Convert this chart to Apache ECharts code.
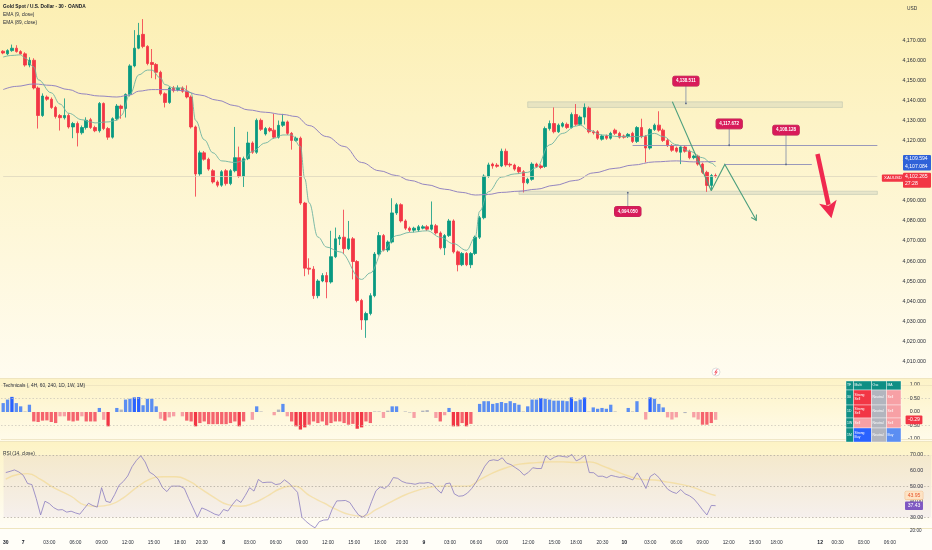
<!DOCTYPE html>
<html>
<head>
<meta charset="utf-8">
<script src="https://cdn.jsdelivr.net/npm/echarts@6/dist/echarts.min.js"></script>
<style>
html,body{margin:0;padding:0;background:#fffdf4}
#chart{width:932px;height:550px}
</style>
</head>
<body>
<div id="chart"></div>
<script>
// ---------------- data ----------------
var SLOTS = 213; // 30 min slots across the whole width (incl. future space)

// [open, close, low, high] per 30 min candle
var candles = [
  [4164.5,4163.6,4163.0,4165.0],[4163.2,4164.8,4162.5,4165.5],[4164.8,4166.0,4164.2,4167.8],[4166.0,4164.3,4163.8,4167.5],
  [4164.3,4163.2,4162.8,4165.0],[4163.2,4157.6,4156.8,4164.0],[4157.6,4160.0,4156.5,4161.5],[4160.0,4146.2,4145.5,4161.0],
  [4146.2,4132.5,4126.0,4147.0],[4132.5,4142.2,4131.8,4143.5],[4141.7,4140.6,4139.8,4142.5],[4140.6,4136.5,4135.8,4141.5],
  [4136.5,4132.0,4131.0,4137.3],[4132.5,4131.4,4125.0,4133.2],[4131.4,4132.5,4130.5,4141.0],[4132.5,4126.8,4126.0,4133.5],
  [4126.8,4128.5,4121.2,4129.3],[4128.5,4123.9,4117.1,4129.5],[4123.9,4126.5,4123.0,4127.5],[4126.5,4130.1,4125.5,4131.6],
  [4130.4,4126.5,4125.8,4131.3],[4126.5,4124.9,4124.2,4127.4],[4124.9,4138.5,4124.0,4139.2],[4138.5,4126.0,4125.2,4139.0],
  [4126.0,4121.7,4120.4,4126.8],[4121.7,4130.9,4121.0,4131.6],[4130.9,4137.2,4130.2,4138.2],[4137.2,4136.0,4130.9,4137.9],
  [4136.0,4143.0,4131.5,4143.5],[4143.0,4157.2,4142.0,4158.0],[4157.2,4166.0,4156.5,4175.0],[4166.0,4172.4,4165.5,4178.6],
  [4172.9,4166.9,4166.0,4180.5],[4166.9,4158.4,4157.5,4167.5],[4158.9,4157.9,4151.1,4165.6],[4157.9,4154.0,4150.5,4158.6],
  [4154.0,4143.3,4142.5,4154.8],[4143.3,4139.0,4136.5,4144.0],[4139.0,4146.2,4138.3,4147.0],[4146.2,4144.9,4144.0,4147.2],
  [4145.4,4146.2,4144.5,4147.5],[4146.2,4144.6,4143.8,4147.0],[4144.6,4141.7,4141.0,4147.5],[4141.7,4126.8,4126.0,4142.5],
  [4126.8,4103.4,4092.1,4127.5],[4103.4,4113.9,4102.5,4115.0],[4113.9,4110.7,4110.0,4114.8],[4110.7,4105.8,4105.0,4111.5],
  [4105.0,4099.4,4098.6,4105.8],[4099.4,4097.8,4096.8,4100.2],[4097.8,4104.5,4097.0,4105.3],[4105.0,4098.6,4097.6,4105.8],
  [4098.6,4105.0,4097.8,4105.8],[4105.0,4111.5,4104.2,4126.8],[4111.5,4102.3,4101.5,4117.0],[4102.3,4111.0,4096.9,4112.0],
  [4111.0,4118.8,4110.3,4124.4],[4118.8,4114.2,4113.4,4119.6],[4114.2,4130.1,4113.4,4131.0],[4130.1,4125.6,4124.8,4131.0],
  [4123.3,4126.0,4122.5,4126.8],[4126.0,4124.9,4124.2,4126.8],[4125.2,4121.7,4121.0,4133.3],[4121.7,4127.6,4121.0,4130.0],
  [4127.6,4129.3,4126.8,4133.3],[4129.3,4123.6,4122.8,4130.0],[4123.6,4120.1,4115.5,4124.3],[4120.1,4121.2,4119.5,4122.0],
  [4121.2,4088.9,4088.0,4122.0],[4088.9,4056.5,4052.5,4089.5],[4056.5,4056.0,4053.3,4061.4],[4056.0,4042.8,4041.2,4057.5],
  [4042.8,4050.1,4041.5,4051.0],[4050.1,4052.8,4049.5,4054.0],[4052.8,4049.6,4041.5,4054.5],[4049.6,4062.2,4048.8,4075.1],
  [4062.2,4071.1,4061.5,4076.7],[4071.1,4071.9,4068.0,4073.0],[4071.9,4066.2,4063.5,4085.6],[4066.2,4071.1,4065.5,4080.0],
  [4071.1,4059.8,4050.9,4072.0],[4059.8,4040.4,4039.5,4060.5],[4040.4,4030.7,4025.8,4041.2],[4030.7,4033.9,4021.8,4034.8],
  [4033.9,4042.8,4033.0,4044.0],[4042.8,4063.5,4042.0,4064.5],[4063.5,4072.7,4062.8,4074.5],[4072.7,4065.5,4064.8,4073.5],
  [4065.5,4069.5,4064.5,4070.3],[4069.5,4084.0,4068.8,4091.3],[4084.0,4088.1,4083.0,4089.0],[4088.1,4080.0,4079.2,4088.8],
  [4080.0,4076.4,4075.5,4080.8],[4076.4,4075.4,4074.5,4077.2],[4075.4,4076.4,4074.3,4077.1],[4075.5,4077.1,4074.5,4078.0],
  [4076.4,4077.1,4075.8,4078.0],[4077.1,4075.9,4075.0,4078.0],[4075.9,4078.0,4075.2,4089.7],[4077.6,4074.0,4073.2,4078.5],
  [4074.0,4066.6,4065.8,4074.8],[4066.6,4072.7,4063.0,4073.5],[4072.7,4080.0,4072.0,4081.0],[4080.0,4064.6,4063.8,4080.8],
  [4064.6,4058.2,4054.9,4065.3],[4058.2,4063.8,4057.5,4064.5],[4063.8,4058.2,4057.5,4064.5],[4058.2,4063.8,4056.5,4064.5],
  [4063.8,4071.9,4063.0,4072.7],[4071.9,4081.6,4071.0,4082.5],[4081.6,4102.3,4080.8,4103.2],[4102.3,4107.9,4101.5,4109.0],
  [4108.3,4107.4,4106.0,4109.0],[4107.8,4107.2,4106.5,4108.8],[4107.4,4114.7,4106.8,4116.0],[4114.7,4107.9,4107.0,4116.0],
  [4108.2,4107.8,4106.8,4109.0],[4107.8,4105.8,4105.0,4108.5],[4106.6,4104.5,4103.5,4107.3],[4104.5,4099.0,4094.2,4105.3],
  [4099.0,4100.7,4098.3,4101.5],[4100.7,4108.3,4100.0,4109.2],[4108.3,4107.1,4106.4,4109.0],[4107.4,4106.6,4105.8,4108.2],
  [4107.1,4126.0,4106.4,4127.0],[4126.0,4128.5,4125.0,4130.0],[4128.5,4124.4,4123.6,4136.5],[4124.4,4127.7,4123.8,4128.5],
  [4127.2,4128.5,4126.5,4129.3],[4128.1,4126.5,4125.8,4129.0],[4126.5,4133.0,4126.0,4134.0],[4133.0,4128.1,4127.3,4138.2],
  [4128.1,4131.7,4127.5,4132.5],[4131.7,4136.5,4128.0,4138.5],[4136.2,4124.4,4123.6,4137.0],[4124.4,4123.9,4123.0,4125.2],
  [4124.4,4121.2,4120.4,4125.2],[4120.7,4122.3,4120.0,4123.0],[4122.3,4121.2,4120.4,4123.0],[4121.2,4123.6,4120.5,4124.4],
  [4125.2,4123.6,4122.8,4126.0],[4123.6,4121.7,4121.0,4124.4],[4122.3,4121.7,4121.0,4123.0],[4122.0,4123.1,4121.3,4123.8],
  [4123.6,4119.6,4118.8,4124.4],[4119.6,4126.5,4118.8,4127.2],[4126.5,4122.0,4121.2,4130.9],[4122.0,4116.3,4109.1,4122.8],
  [4116.3,4125.5,4115.5,4126.2],[4125.5,4127.7,4124.8,4128.5],[4127.7,4125.2,4124.4,4134.6],[4125.2,4120.1,4119.3,4126.0],
  [4120.1,4117.5,4116.8,4121.0],[4117.5,4115.2,4114.4,4118.3],[4116.3,4114.7,4114.0,4117.0],[4114.2,4116.8,4108.3,4117.6],
  [4116.8,4114.7,4114.0,4117.6],[4114.7,4111.5,4110.7,4115.5],[4111.5,4112.3,4110.7,4113.0],[4112.3,4108.3,4107.5,4113.0],
  [4108.3,4104.2,4103.4,4109.0],[4104.2,4097.7,4094.5,4105.0],[4097.7,4102.6,4095.3,4103.4],[4102.6,4102.27,4101.5,4103.6]
];

// EMA lines, read at sample candles: [candle index, value]
var ema9 = [[0,4161.6],[2,4162.4],[4,4162.7],[5,4161.1],[7,4156.7],[8,4150.3],[11,4143.8],[13,4138.2],[15,4133.6],[18,4130.4],
  [20,4129.3],[21,4128.8],[24,4129.3],[26,4130.1],[27,4132.5],[29,4143],[31,4152.7],[33,4155.1],[34,4155.1],[36,4151.1],
  [37,4147.9],[39,4146.2],[41,4146.2],[43,4143.8],[44,4130.1],[46,4120.4],[48,4113.9],[50,4109.9],[53,4109.1],[55,4109.9],
  [57,4114.7],[60,4118.8],[62,4121.2],[64,4122.8],[66,4122.8],[68,4117.1],[69,4101],[70,4089],[72,4072],[74,4067],
  [77,4064.6],[82,4050.9],[84,4054.1],[87,4065.4],[90,4072.7],[93,4074.3],[97,4075.1],[100,4071.9],[103,4068.7],[106,4065.4],
  [108,4071.9],[109,4084.8],[111,4094.5],[114,4101.8],[117,4103.4],[120,4104.2],[122,4106.6],[125,4117.9],[128,4123.6],[131,4127.2],
  [132,4127.7],[134,4125.2],[137,4122.8],[141,4122],[146,4122],[149,4123.6],[151,4122],[154,4118],[157,4114.7],[160,4111.5],
  [162,4108.8],[163,4107.084]];
var ema89 = [[0,4145.4],[3,4147],[7,4148.2],[11,4147.5],[15,4145.4],[18,4143.3],[22,4142.2],[26,4141.7],[29,4142.7],[31,4144.6],
  [34,4145.4],[37,4145.4],[41,4144.9],[45,4142.7],[49,4140.1],[53,4137.4],[56,4135.3],[60,4134.1],[64,4133],[67,4132],
  [70,4127.5],[74,4122],[78,4117.1],[82,4109.1],[86,4105],[90,4102.6],[93,4100.2],[97,4098],[101,4095.8],[105,4094.2],
  [108,4092.9],[111,4093.2],[114,4094.2],[118,4094.8],[122,4095.8],[126,4097.7],[131,4100.2],[135,4103.9],[140,4106.2],[144,4107.8],
  [149,4109.4],[154,4109.9],[158,4109.4],[163,4109.594]];

// Technicals rating, one value per candle
var techValues = [0.33,0.46,0.56,0.33,0.21,0.02,0.27,-0.35,-0.37,-0.32,-0.31,-0.37,-0.41,-0.16,-0.16,-0.32,-0.35,-0.32,-0.16,-0.35,
  -0.35,-0.35,0.15,-0.29,-0.53,0.0,0.15,0.09,0.46,0.49,0.54,0.55,0.25,0.49,0.49,0.21,-0.25,-0.32,-0.2,-0.16,
  0.0,-0.16,-0.32,-0.35,-0.53,-0.41,-0.35,-0.45,-0.45,-0.45,-0.45,-0.45,-0.41,-0.35,-0.53,-0.35,0.0,-0.29,0.21,0.02,
  0.0,0.0,-0.12,0.09,0.3,-0.16,-0.35,
  -0.53,-0.65,-0.57,-0.47,-0.35,-0.41,-0.35,-0.49,-0.41,-0.35,-0.35,-0.41,-0.47,-0.44,-0.62,-0.57,-0.35,-0.41,
  0.02,0.02,-0.22,0.05,0.21,0.21,0.0,0.02,-0.02,-0.22,0.0,0.05,0.07,0.0,-0.22,-0.35,-0.12,0.15,
  -0.53,-0.53,-0.41,-0.53,-0.44,0.0,
  0.3,0.4,0.4,0.3,0.33,0.37,0.33,0.4,0.33,0.27,0.02,
  0.21,0.46,0.46,0.52,0.49,0.46,0.42,0.42,0.42,0.4,0.54,0.4,0.46,0.54,
  0.02,0.17,0.12,0.15,0.12,0.27,0.02,0.0,0.0,0.15,0.02,0.4,0.0,-0.28,
  0.54,0.49,0.3,0.17,-0.2,-0.28,-0.2,0.0,-0.04,0.0,-0.2,-0.28,-0.47,-0.47,-0.41,-0.29];

// RSI (14), one value per candle
var rsiValues = [58.7,59.5,60.4,59.1,57,51.7,51,42,31.5,40.3,38.8,36.2,34.7,34.9,33.3,33.9,32.8,32,35.5,39,
  37.5,36.5,49,40.3,39.5,44.5,50.5,53,56.5,62.5,66.5,69.5,65.5,59,57.3,54.5,49,46.5,50,50,
  50,48.5,42,36,30,36,34.9,33.5,32,31.2,35,34,38,41.4,39.5,44,49,46.8,54.3,52.2,
  52.5,52.5,51,51.5,54,52,49,46,
  30,27.2,25,23.2,27.2,28.2,28.4,35.5,40.5,40.6,40.8,39.5,35.3,31.5,30,32.5,40,47,49.5,48.5,
  50.8,55.5,55,53,52,51.7,51.2,52,51.9,52.3,51.5,48,45.5,51.5,52,45,43.5,43.8,45.5,48.5,
  52.5,57.5,62.8,66.3,66.9,66.4,68.2,64.8,63.8,61.9,60,57,58.8,61.8,61.3,61.3,69.5,66.9,68.6,69.5,
  69,68.6,70.3,66.2,67.6,69.9,58.7,58.6,56.3,56.4,55.4,56.9,56.2,55.6,56,55,54,58.5,54,48.5,
  56.2,58,55.5,51.5,48,46.3,45.3,47.8,45,43.8,41.8,38.5,34.8,31.5,37.6,37.43];
// RSI based MA, read at sample candles
var rsiMa = [[0,54.5],[3,57.6],[5,58],[8,54.3],[11,49],[15,43.5],[18,38],[21,37],[24,38.1],[27,42.5],[30,49],[33,54.3],
  [36,56],[39,56],[42,53.3],[45,47.9],[48,42.5],[51,38.1],[54,37.1],[57,39.2],[60,43.5],[63,48.3],[66,50],[70,43.5],
  [73,39.2],[76,34.9],[79,31.7],[82,30.6],[85,34.9],[88,39.2],[91,43.5],[94,46.8],[97,49],[100,50],[103,50],[106,50],
  [109,54.3],[112,58.7],[115,61.9],[118,64.1],[122,65.1],[125,65.6],[128,65.6],[131,65.1],[134,65.6],[137,63],[140,59.7],
  [143,56.5],[146,54.3],[149,53.9],[152,52.6],[155,51.1],[158,49],[161,45.7],[163,44]];

// time axis labels: [slot index, text]
var timeTicks = [[0,'30'],[4,'7'],[10,'03:00'],[16,'06:00'],[22,'09:00'],[28,'12:00'],[34,'15:00'],[40,'18:00'],[45,'20:30'],
  [50,'8'],[56,'03:00'],[62,'06:00'],[68,'09:00'],[74,'12:00'],[80,'15:00'],[86,'18:00'],[91,'20:30'],
  [96,'9'],[102,'03:00'],[108,'06:00'],[114,'09:00'],[120,'12:00'],[126,'15:00'],[131,'18:00'],[137,'20:30'],
  [142,'10'],[148,'03:00'],[154,'06:00'],[160,'09:00'],[166,'12:00'],[172,'15:00'],[177,'18:00'],
  [187,'12'],[191,'00:30'],[197,'03:00'],[203,'06:00']];

// drawn levels and zones
var resistanceZone = [[120,4139.3],[192,4136.5]];
var supportZone = [[118,4094.8],[200,4093.2]];
var levelUpper = [144,200,4117.672];
var levelLower = [165,185,4108.128];
var lastPrice = 4102.265;
var callouts = [
  {text:'4,138.511', i:156.2, price:4138.511, labelPrice:4149.6},
  {text:'4,117.672', i:166.1, price:4117.672, labelPrice:4128.3},
  {text:'4,108.128', i:179.1, price:4108.128, labelPrice:4125.2},
  {text:'4,094.050', i:142.9, price:4094.05, labelPrice:4084.7}
];
var trendLine = [[153.1,4139.3],[162,4095]];
var zigzag = [[162,4095],[165.1,4108.1],[172.3,4080.3]];
var bigArrow = [[186.3,4113.3],[189.5,4081.3]];

// ---------------- chart ----------------
var FONT = '"Liberation Sans", Arial, sans-serif';
var TXT = '#2a2e39';

var xCats = [];
for (var s = 0; s < SLOTS; s++) xCats.push('');
var dayLabels = {'7':1,'8':1,'9':1,'10':1,'12':1,'30':1};
timeTicks.forEach(function (t) { xCats[t[0]] = t[1]; });

function fmtPrice(v) {
  return v.toLocaleString('en-US', {minimumFractionDigits: 3, maximumFractionDigits: 3});
}
function techColor(v) {
  if (v >= 0.5) return '#2962ff';
  if (v >= 0.1) return '#5b8ef2';
  if (v > -0.1) return '#b2b5be';
  if (v > -0.3) return '#f7a0a5';
  if (v > -0.5) return '#f5636d';
  return '#f23645';
}

function xAxisFor(idx, showLabels) {
  return {
    type: 'category', gridIndex: idx, data: xCats, boundaryGap: true,
    axisLine: {show: false}, axisTick: {show: false}, splitLine: {show: false},
    axisLabel: {
      show: showLabels, interval: 0, margin: 7, fontSize: 4.8, color: TXT, fontFamily: FONT,
      formatter: function (v) { return dayLabels[v] ? '{d|' + v + '}' : v; },
      rich: {d: {fontSize: 5, fontWeight: 'bold', color: '#131722', fontFamily: FONT}}
    }
  };
}

var chartDom = document.getElementById('chart');
var chart = echarts.init(chartDom);

var option = {
  animation: false,
  backgroundColor: 'transparent',
  grid: [
    {left: 1, right: 0, top: -10.25, height: 391.875},
    {left: 1, right: 0, top: 385, height: 54},
    {left: 1, right: 0, top: 439.4, height: 93.45}
  ],
  xAxis: [xAxisFor(0, false), xAxisFor(1, false), xAxisFor(2, true)],
  yAxis: [
    {
      gridIndex: 0, position: 'right', min: 4000, max: 4190, interval: 10, scale: true,
      axisLine: {show: false}, axisTick: {show: false}, splitLine: {show: false},
      axisLabel: {
        inside: true, margin: 6, fontSize: 5.3, color: TXT, fontFamily: FONT,
        formatter: function (v) { return (v >= 4010 && v <= 4170) ? fmtPrice(v) : ''; }
      }
    },
    {
      gridIndex: 1, position: 'right', min: -1, max: 1, interval: 0.5,
      axisLine: {show: false}, axisTick: {show: false}, splitLine: {show: false},
      axisLabel: {inside: true, margin: 12, fontSize: 5.3, color: TXT, fontFamily: FONT,
        formatter: function (v) { return v.toFixed(2); }}
    },
    {
      gridIndex: 2, position: 'right', min: 20, max: 80, interval: 10,
      axisLine: {show: false}, axisTick: {show: false}, splitLine: {show: false},
      axisLabel: {inside: true, margin: 8, fontSize: 5.3, color: TXT, fontFamily: FONT,
        formatter: function (v) { return (v >= 30 && v <= 70) ? v.toFixed(2) : ''; }}
    }
  ],
  series: [
    {
      name: 'XAUUSD', type: 'candlestick', xAxisIndex: 0, yAxisIndex: 0,
      data: candles, barWidth: 3,
      itemStyle: {color: '#089981', color0: '#f23645', borderColor: '#089981', borderColor0: '#f23645', borderWidth: 0.8},
      markLine: {
        silent: true, symbol: 'none', label: {show: false},
        data: [
          [{coord: [0, lastPrice], lineStyle: {color: '#d9d2bb', width: 0.7, type: 'solid'}}, {coord: [200, lastPrice]}],
          [{coord: [levelUpper[0], levelUpper[2]], lineStyle: {color: '#8f8fb8', width: 0.9, type: 'solid'}}, {coord: [levelUpper[1], levelUpper[2]]}],
          [{coord: [levelLower[0], levelLower[2]], lineStyle: {color: '#8f8fb8', width: 0.9, type: 'solid'}}, {coord: [levelLower[1], levelLower[2]]}]
        ]
      },
      markArea: {
        silent: true,
        itemStyle: {color: 'rgba(196,206,190,0.38)', borderColor: 'rgba(170,182,168,0.7)', borderWidth: 0.6},
        data: [
          [{coord: resistanceZone[0]}, {coord: resistanceZone[1]}],
          [{coord: supportZone[0]}, {coord: supportZone[1]}]
        ]
      }
    },
    {
      name: 'EMA 89', type: 'line', xAxisIndex: 0, yAxisIndex: 0, data: ema89,
      smooth: 0.4, smoothMonotone: 'x', showSymbol: false, symbol: 'none',
      lineStyle: {color: '#9485c0', width: 1}
    },
    {
      name: 'EMA 9', type: 'line', xAxisIndex: 0, yAxisIndex: 0, data: ema9,
      smooth: 0.4, smoothMonotone: 'x', showSymbol: false, symbol: 'none',
      lineStyle: {color: '#6fb3a2', width: 0.9}
    },
    {
      name: 'Technicals', type: 'bar', xAxisIndex: 1, yAxisIndex: 1, barWidth: 3.3,
      data: techValues.map(function (v) { return {value: v, itemStyle: {color: techColor(v)}}; }),
      markLine: {
        silent: true, symbol: 'none', label: {show: false},
        data: [
          {yAxis: 0.5, lineStyle: {color: '#c7c3b8', type: [1.5, 2], width: 0.7}},
          {yAxis: -0.5, lineStyle: {color: '#c7c3b8', type: [1.5, 2], width: 0.7}},
          {yAxis: 1, lineStyle: {color: '#ece2bf', type: 'solid', width: 0.8}},
          {yAxis: -1, lineStyle: {color: '#ece2bf', type: 'solid', width: 0.8}}
        ]
      }
    },
    {
      name: 'RSI MA', type: 'line', xAxisIndex: 2, yAxisIndex: 2, data: rsiMa,
      smooth: 0.5, showSymbol: false, symbol: 'none',
      lineStyle: {color: 'rgba(244,212,120,0.5)', width: 1.4}
    },
    {
      name: 'RSI', type: 'line', xAxisIndex: 2, yAxisIndex: 2, data: rsiValues,
      showSymbol: false, symbol: 'none',
      lineStyle: {color: '#8a7cc0', width: 0.8},
      markLine: {
        silent: true, symbol: 'none', label: {show: false},
        lineStyle: {color: '#aaa49a', type: [1.5, 2], width: 0.7},
        data: [{yAxis: 70}, {yAxis: 50}, {yAxis: 30}]
      },
      markArea: {
        silent: true, itemStyle: {color: 'rgba(126,87,194,0.07)'},
        data: [[{yAxis: 30}, {yAxis: 70}]]
      }
    }
  ]
};
chart.setOption(option);

// ---------------- overlays (drawings, tags, table) ----------------
function toPx(i, p) {
  var i0 = Math.floor(i), f = i - i0;
  var a = chart.convertToPixel({xAxisIndex: 0, yAxisIndex: 0}, [i0, p]);
  var b = chart.convertToPixel({xAxisIndex: 0, yAxisIndex: 0}, [i0 + 1, p]);
  return [a[0] + (b[0] - a[0]) * f, a[1]];
}
function txt(x, y, s, st) {
  var style = {text: s, x: x, y: y, fill: '#131722', fontSize: 4.8, fontFamily: FONT, align: 'left', verticalAlign: 'middle'};
  for (var k in st) style[k] = st[k];
  return {type: 'text', z: 100, style: style};
}
function vgrad(c0, c1) {
  return new echarts.graphic.LinearGradient(0, 0, 0, 1, [{offset: 0, color: c0}, {offset: 1, color: c1}]);
}

var g = [];
// pane backgrounds
g.push({type: 'rect', z: -10, shape: {x: 0, y: 0, width: 932, height: 378}, style: {fill: vgrad('#fcefb3', '#fffcf0')}});
g.push({type: 'rect', z: -10, shape: {x: 0, y: 378, width: 932, height: 63}, style: {fill: vgrad('#fdf3c6', '#fffbea')}});
g.push({type: 'rect', z: -10, shape: {x: 0, y: 441, width: 932, height: 87}, style: {fill: vgrad('#fdf3c4', '#fffdf6')}});
g.push({type: 'rect', z: -10, shape: {x: 0, y: 528, width: 932, height: 22}, style: {fill: '#fffef8'}});
// pane separators
[378.5, 441.5, 528.5].forEach(function (y) {
  g.push({type: 'line', z: 1, shape: {x1: 0, y1: y, x2: 932, y2: y}, style: {stroke: '#efe5bf', lineWidth: 1}});
});

// legends
g.push(txt(3, 7, 'Gold Spot / U.S. Dollar · 30 · OANDA', {fontWeight: 'bold', fontSize: 4.8}));
g.push(txt(3, 15, 'EMA (9, close)', {fill: '#2a2e39'}));
g.push(txt(3, 22.5, 'EMA (89, close)', {fill: '#2a2e39'}));
g.push(txt(3, 385.5, 'Technicals (, 4H, 60, 240, 1D, 1W, 1M)', {fill: '#2a2e39'}));
g.push(txt(3, 453.5, 'RSI (14, close)', {fill: '#2a2e39'}));
g.push(txt(907, 9, 'USD', {fill: '#2a2e39'}));
g.push(txt(910, 531, '20:00', {fill: '#2a2e39', fontSize: 4.6}));

// green drawings
function polyPx(list) { return list.map(function (d) { return toPx(d[0], d[1]); }); }
g.push({type: 'polyline', z: 50, shape: {points: polyPx(trendLine)}, style: {stroke: '#4d9f7e', lineWidth: 1.1, fill: null}});
var zz = polyPx(zigzag);
g.push({type: 'polyline', z: 50, shape: {points: zz}, style: {stroke: '#4d9f7e', lineWidth: 1.1, fill: null}});
(function () {
  var a = zz[zz.length - 2], b = zz[zz.length - 1];
  var dx = b[0] - a[0], dy = b[1] - a[1], len = Math.sqrt(dx * dx + dy * dy);
  var ux = dx / len, uy = dy / len, nx = -uy, ny = ux;
  var L = 5, W = 3;
  g.push({type: 'polyline', z: 50, shape: {points: [
    [b[0] - ux * L + nx * W, b[1] - uy * L + ny * W], b, [b[0] - ux * L - nx * W, b[1] - uy * L - ny * W]
  ]}, style: {stroke: '#4d9f7e', lineWidth: 1.1, fill: null}});
})();

// big red arrow
(function () {
  var s = toPx(bigArrow[0][0], bigArrow[0][1]), t = toPx(bigArrow[1][0], bigArrow[1][1]);
  var dx = t[0] - s[0], dy = t[1] - s[1], len = Math.sqrt(dx * dx + dy * dy);
  var ux = dx / len, uy = dy / len, nx = -uy, ny = ux;
  var L = 17, W = 9;
  var bx = t[0] - ux * L, by = t[1] - uy * L;
  g.push({type: 'line', z: 50, shape: {x1: s[0], y1: s[1], x2: bx + ux * 3, y2: by + uy * 3}, style: {stroke: '#f0294f', lineWidth: 4.5}});
  g.push({type: 'polygon', z: 50, shape: {points: [t, [bx + nx * W, by + ny * W], [bx + ux * 4, by + uy * 4], [bx - nx * W, by - ny * W]]}, style: {fill: '#f0294f'}});
})();

// callouts
callouts.forEach(function (c) {
  var a = toPx(c.i, c.price), l = toPx(c.i, c.labelPrice);
  var up = l[1] < a[1];
  var edge = up ? l[1] + 5 : l[1] - 5;
  g.push({type: 'line', z: 60, shape: {x1: a[0], y1: edge, x2: a[0], y2: a[1]}, style: {stroke: '#7d8aa6', lineWidth: 0.8}});
  g.push({type: 'circle', z: 61, shape: {cx: a[0], cy: a[1], r: 0.9}, style: {fill: '#5d6a86'}});
  g.push(txt(l[0], l[1], c.text, {fill: '#ffffff', align: 'center', fontSize: 4.5, fontWeight: 'bold',
    backgroundColor: '#d81b5a', borderColor: '#b3164a', borderWidth: 0.5, padding: [2.4, 3.2], borderRadius: 1.8}));
});

// right axis tags
var yE89 = toPx(0, ema89[ema89.length - 1][1])[1];
var yLast = toPx(0, lastPrice)[1];
g.push({type: 'rect', z: 90, shape: {x: 903, y: yE89 - 6.5, width: 28, height: 15.5, r: 1}, style: {fill: '#2f62d8'}});
g.push(txt(905, yE89 - 2.6, fmtPrice(ema89[ema89.length - 1][1]), {fill: '#fff', fontSize: 5.1}));
g.push(txt(905, yE89 + 4.6, fmtPrice(ema9[ema9.length - 1][1]), {fill: '#fff', fontSize: 5.1}));
g.push({type: 'rect', z: 90, shape: {x: 903, y: yLast - 3.5, width: 28, height: 15, r: 1}, style: {fill: '#f23645'}});
g.push(txt(905, yLast + 0.6, fmtPrice(lastPrice), {fill: '#fff', fontSize: 5.1}));
g.push(txt(905, yLast + 7.6, '27:28', {fill: '#fff', fontSize: 5.1}));
g.push(txt(893, yLast + 2, 'XAUUSD', {fill: '#fff', align: 'center', fontSize: 4.3,
  backgroundColor: '#f23645', padding: [1.6, 2.2], borderRadius: 1}));

var yTech = chart.convertToPixel({xAxisIndex: 1, yAxisIndex: 1}, [0, techValues[techValues.length - 1]])[1];
g.push(txt(914, yTech, techValues[techValues.length - 1].toFixed(2), {fill: '#fff', align: 'center', fontSize: 5.1,
  backgroundColor: '#f23645', padding: [1.8, 2.6], borderRadius: 1}));
var yMa = chart.convertToPixel({xAxisIndex: 2, yAxisIndex: 2}, [0, rsiMa[rsiMa.length - 1][1]])[1];
var yRsi = chart.convertToPixel({xAxisIndex: 2, yAxisIndex: 2}, [0, rsiValues[rsiValues.length - 1]])[1];
g.push(txt(914, yMa, '43.95', {fill: '#e8572b', align: 'center', fontSize: 5.1,
  backgroundColor: '#fde3c4', borderColor: '#f3b278', borderWidth: 0.5, padding: [1.6, 2.4], borderRadius: 1}));
g.push(txt(914, yRsi, rsiValues[rsiValues.length - 1].toFixed(2), {fill: '#fff', align: 'center', fontSize: 5.1,
  backgroundColor: '#7e57c2', padding: [1.8, 2.6], borderRadius: 1}));

// ratings table
var tCols = [846, 853.5, 871.5, 886.5, 901];
var tRows = [381, 390, 405, 418, 428, 442];
var teal = '#0f8f84';
var tCells = [
  [['TF', teal], ['Multi', teal], ['Osc', teal], ['MA', teal]],
  [['30', teal], ['Strong\nSell', '#f23645'], ['Neutral', '#b2b5be'], ['Sell', '#f7a0a5']],
  [['1D', teal], ['Strong\nSell', '#f23645'], ['Neutral', '#b2b5be'], ['Sell', '#f7a0a5']],
  [['1W', teal], ['Sell', '#f7a0a5'], ['Neutral', '#b2b5be'], ['Sell', '#f7a0a5']],
  [['1M', teal], ['Strong\nBuy', '#2962ff'], ['Neutral', '#b2b5be'], ['Buy', '#5b8ef2']]
];
tCells.forEach(function (row, r) {
  row.forEach(function (cell, c) {
    var x = tCols[c], w = tCols[c + 1] - x, y = tRows[r], h = tRows[r + 1] - y;
    g.push({type: 'rect', z: 95, shape: {x: x, y: y, width: w, height: h}, style: {fill: cell[1], stroke: '#ffffff', lineWidth: 0.4}});
    g.push(txt(x + 1, y + h / 2, cell[0], {fill: '#fff', fontSize: 3.4, lineHeight: 4}));
  });
});

// small replay badge under the last candles
g.push({type: 'circle', z: 80, shape: {cx: 716, cy: 372, r: 4}, style: {fill: '#ffffff', stroke: '#c9c9c9', lineWidth: 0.6}});
g.push({type: 'polyline', z: 81, shape: {points: [[717.2, 369.2], [714.8, 372.4], [717.2, 371.8], [714.8, 375]]}, style: {stroke: '#f23645', lineWidth: 0.8, fill: null}});

chart.setOption({graphic: g});
</script>
</body>
</html>
